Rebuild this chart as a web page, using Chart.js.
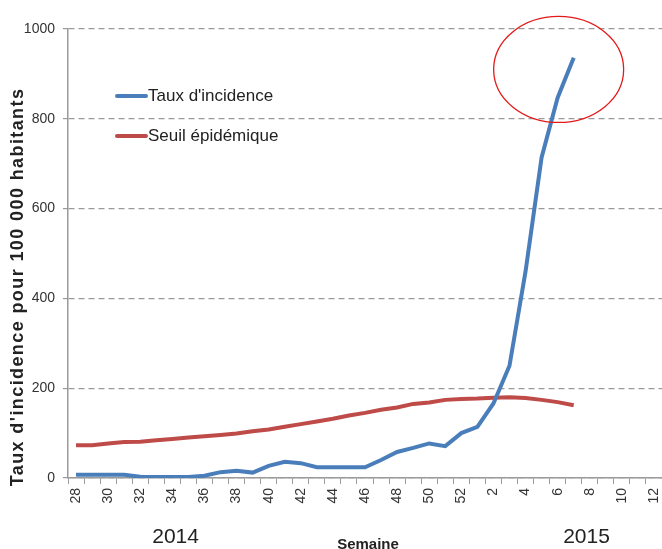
<!DOCTYPE html>
<html>
<head>
<meta charset="utf-8">
<script src="https://cdn.jsdelivr.net/npm/chart.js@4.4.1/dist/chart.umd.min.js"></script>
<style>
    html, body { margin: 0; padding: 0; background: #fff; }
    #wrap { width: 662px; height: 549px; position: relative; }
</style>
</head>
<body>
<div id="wrap"><canvas id="incidence"></canvas></div>
<script>
// ── Data ──────────────────────────────────────────────────

const weeks = [
    '28','29','30','31','32','33','34','35','36','37','38','39','40',
    '41','42','43','44','45','46','47','48','49','50','51','52',
    '1','2','3','4','5','6','7','8','9','10','11','12'
];

const tauxIncidence = [
    7, 7, 7, 7, 3, 2, 2, 2, 5, 13, 16, 12, 27,
    36, 33, 24, 24, 24, 24, 40, 58, 67, 77, 71, 100,
    114, 166, 250, 460, 714, 847, 936, null, null, null, null, null
];

const seuilEpidemique = [
    73, 73, 77, 80, 81, 84, 87, 90, 93, 96, 99, 104, 108,
    114, 120, 126, 132, 139, 145, 152, 157, 165, 168, 174, 176,
    177, 179, 180, 178, 174, 169, 162, null, null, null, null, null
];

const yearLabels = ['2014', '2015'];
const yTicks     = [0, 200, 400, 600, 800, 1000];

const yTitle = "Taux d'incidence pour 100 000 habitants";
const xTitle = 'Semaine';

// ── Styles ────────────────────────────────────────────────

const BLUE  = '#4a7ebb';
const RED   = '#be4b48';
const GRID  = '#9a9a9a';
const TEXT  = '#333333';
const FONT  = "'Liberation Sans', Arial, sans-serif";

// ── Plugin: titles, years, legend, circle ─────────────────

const decorPlugin = {
    id: 'decor',
    afterDraw(chart) {
        const ctx = chart.ctx;
        const xs  = chart.scales.x;
        const ys  = chart.scales.y;

        // y title (slightly letter-spaced like the original)
        ctx.save();
        ctx.translate(18, 287);
        ctx.rotate(-Math.PI / 2);
        ctx.font = 'bold 18px ' + FONT;
        ctx.letterSpacing = '1.4px';
        ctx.fillStyle = '#222';
        ctx.textAlign = 'center';
        ctx.textBaseline = 'middle';
        ctx.fillText(yTitle, 0, 0);
        ctx.restore();

        // x title
        ctx.save();
        ctx.font = 'bold 15px ' + FONT;
        ctx.fillStyle = '#222';
        ctx.textAlign = 'center';
        ctx.textBaseline = 'top';
        ctx.fillText(xTitle, 368, 537);
        ctx.restore();

        // year labels under the axis
        const yearAt = [6.2, 31.8];
        ctx.save();
        ctx.font = '21px ' + FONT;
        ctx.fillStyle = '#222';
        ctx.textAlign = 'center';
        ctx.textBaseline = 'middle';
        yearLabels.forEach((y, i) => ctx.fillText(y, xs.getPixelForValue(yearAt[i]), 537));
        ctx.restore();

        // legend inside the plot
        ctx.save();
        chart.data.datasets.forEach((ds, i) => {
            const y = 96 + i * 40;
            ctx.strokeStyle = ds.borderColor;
            ctx.lineWidth = 4;
            ctx.lineCap = 'round';
            ctx.beginPath();
            ctx.moveTo(117, y);
            ctx.lineTo(146, y);
            ctx.stroke();
            ctx.font = '17px ' + FONT;
            ctx.fillStyle = '#222';
            ctx.textAlign = 'left';
            ctx.textBaseline = 'middle';
            ctx.fillText(ds.label, 148, y);
        });
        ctx.restore();

        // red circle around the peak
        ctx.save();
        ctx.strokeStyle = '#e41a1a';
        ctx.lineWidth = 1.3;
        ctx.beginPath();
        ctx.ellipse(xs.getPixelForValue(30) + 1, ys.getPixelForValue(910), 65, 53, 0, 0, Math.PI * 2);
        ctx.stroke();
        ctx.restore();
    }
};

// ── Chart ─────────────────────────────────────────────────

new Chart(document.getElementById('incidence').getContext('2d'), {
    type: 'line',
    plugins: [decorPlugin],
    data: {
        labels: weeks,
        datasets: [
            {
                label: "Taux d'incidence",
                data: tauxIncidence,
                borderColor: BLUE,
                borderWidth: 4,
                pointRadius: 0,
                tension: 0
            },
            {
                label: 'Seuil épidémique',
                data: seuilEpidemique,
                borderColor: RED,
                borderWidth: 4,
                pointRadius: 0,
                tension: 0
            }
        ]
    },
    options: {
        responsive: true,
        maintainAspectRatio: false,
        animation: false,
        layout: { padding: { top: 29, right: 0, left: 0, bottom: 0 } },
        plugins: {
            legend:  { display: false },
            tooltip: { enabled: false }
        },
        scales: {
            x: {
                offset: true,
                afterFit: s => { s.height = 71; s.paddingLeft = 0; s.paddingRight = 0; },
                grid: { offset: true, drawOnChartArea: false, tickLength: 6, color: GRID },
                border: { color: GRID, width: 1.5 },
                ticks: {
                    autoSkip: false,
                    minRotation: 90,
                    maxRotation: 90,
                    padding: 4,
                    color: TEXT,
                    font: { size: 14, family: FONT },
                    callback: (v, i) => (i % 2 === 0 ? weeks[i] : '')
                }
            },
            y: {
                min: 0,
                max: 1000,
                afterFit: s => { s.width = 68; },
                afterBuildTicks: s => { s.ticks = yTicks.map(v => ({ value: v })); },
                grid: { color: GRID, tickLength: 5, lineWidth: 1.2 },
                border: { color: GRID, width: 1.5, dash: [6, 4] },
                ticks: {
                    padding: 8,
                    color: TEXT,
                    font: { size: 14, family: FONT },
                    callback: v => String(v)
                }
            }
        }
    }
});
</script>
</body>
</html>
